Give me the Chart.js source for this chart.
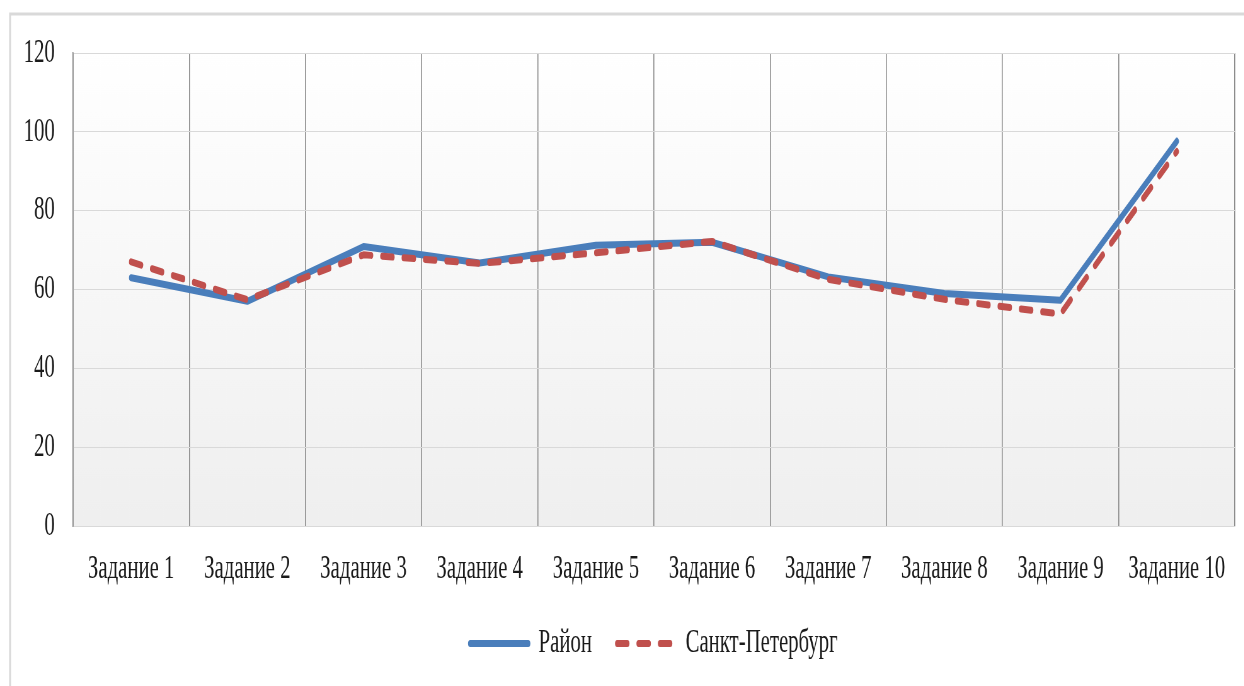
<!DOCTYPE html>
<html lang="ru">
<head>
<meta charset="utf-8">
<title>Район и Санкт-Петербург</title>
<script src="https://cdn.jsdelivr.net/npm/chart.js@4/dist/chart.umd.min.js"></script>
<style>
  html, body { margin: 0; padding: 0; background: #fff; overflow: hidden; }
  /* текст на оригинале сжат по горизонтали */
  #obertka { width: 1975px; height: 686px; transform: scaleX(0.63); transform-origin: 0 0; }
</style>
</head>
<body>
<div id="obertka"><canvas id="grafik" width="1975" height="686"></canvas></div>
<script>
const zadaniya = ['Задание 1', 'Задание 2', 'Задание 3', 'Задание 4', 'Задание 5',
                  'Задание 6', 'Задание 7', 'Задание 8', 'Задание 9', 'Задание 10'];
const rajon = [63, 57, 70.9, 66.7, 71.2, 72, 63.2, 59, 57.3, 97.6];
const peterburg = [67, 57.4, 68.8, 66.6, 69.3, 72.2, 62.6, 57.5, 53.8, 95];
const shagOsi = 20;
const maksOsi = 120;

const shrift = 'Liberation Serif, Times New Roman, serif';

// Фон области построения и рамка
const fonPlugin = {
    id: 'fon',
    beforeDraw(chart) {
        const { ctx, chartArea: a, width, height } = chart;
        ctx.save();
        ctx.fillStyle = '#ffffff';
        ctx.fillRect(0, 0, width, height);
        const g = ctx.createLinearGradient(0, a.top, 0, a.bottom);
        g.addColorStop(0, '#ffffff');
        g.addColorStop(1, '#efefef');
        ctx.fillStyle = g;
        ctx.fillRect(a.left, a.top, a.right - a.left, a.bottom - a.top);
        ctx.strokeStyle = '#d9d9d9';
        ctx.lineWidth = 3;
        ctx.beginPath();
        ctx.moveTo(16, height);
        ctx.lineTo(16, 14);
        ctx.lineTo(width, 14);
        ctx.stroke();
        ctx.restore();
    }
};

function inicializirovatGrafik() {
    const ctx = document.getElementById('grafik').getContext('2d');
    new Chart(ctx, {
        type: 'line',
        data: {
            labels: zadaniya,
            datasets: [{
                label: 'Район',
                data: rajon,
                borderColor: '#4a7ebb',
                backgroundColor: '#4a7ebb',
                borderWidth: 7,
                borderCapStyle: 'round',
                borderJoinStyle: 'round',
                pointRadius: 0,
                tension: 0,
                order: 1
            }, {
                label: 'Санкт-Петербург',
                data: peterburg,
                borderColor: '#c0504d',
                backgroundColor: '#c0504d',
                borderWidth: 7,
                borderDash: [16, 18],
                borderCapStyle: 'round',
                borderJoinStyle: 'round',
                pointRadius: 0,
                tension: 0,
                order: 0
            }]
        },
        options: {
            responsive: false,
            animation: false,
            devicePixelRatio: 1,
            layout: {
                padding: { left: 0, right: 15, top: 53, bottom: 16 }
            },
            plugins: {
                legend: {
                    position: 'bottom',
                    fullSize: false,
                    labels: {
                        usePointStyle: true,
                        pointStyle: 'line',
                        pointStyleWidth: 92,
                        padding: 40,
                        color: '#1a1a1a',
                        font: { family: shrift, size: 33 },
                        sort: (a, b) => a.datasetIndex - b.datasetIndex,
                        generateLabels: chart => {
                            const items = Chart.defaults.plugins.legend.labels.generateLabels(chart);
                            items.forEach(it => {
                                const ds = chart.data.datasets[it.datasetIndex];
                                it.lineDash = ds.borderDash || [];
                                it.lineWidth = ds.borderWidth;
                                it.lineCap = 'round';
                                it.strokeStyle = ds.borderColor;
                            });
                            return items;
                        }
                    }
                },
                tooltip: { enabled: false }
            },
            scales: {
                x: {
                    offset: true,
                    grid: { offset: true, color: '#8c8c8c', lineWidth: 1.6, drawTicks: false },
                    border: { color: '#d9d9d9', width: 1 },
                    ticks: {
                        color: '#1a1a1a',
                        padding: 24,
                        maxRotation: 0,
                        autoSkip: false,
                        font: { family: shrift, size: 33 }
                    },
                    afterFit: s => { s.height = 61; }
                },
                y: {
                    min: 0,
                    max: maksOsi,
                    grid: { color: '#d9d9d9', lineWidth: 1, drawTicks: false },
                    border: { color: '#868686', width: 1.6 },
                    ticks: {
                        stepSize: shagOsi,
                        color: '#1a1a1a',
                        padding: 29,
                        font: { family: shrift, size: 33 }
                    },
                    afterFit: s => { s.width = 116; }
                }
            }
        },
        plugins: [fonPlugin]
    });
}

document.addEventListener('DOMContentLoaded', inicializirovatGrafik);
</script>
</body>
</html>
